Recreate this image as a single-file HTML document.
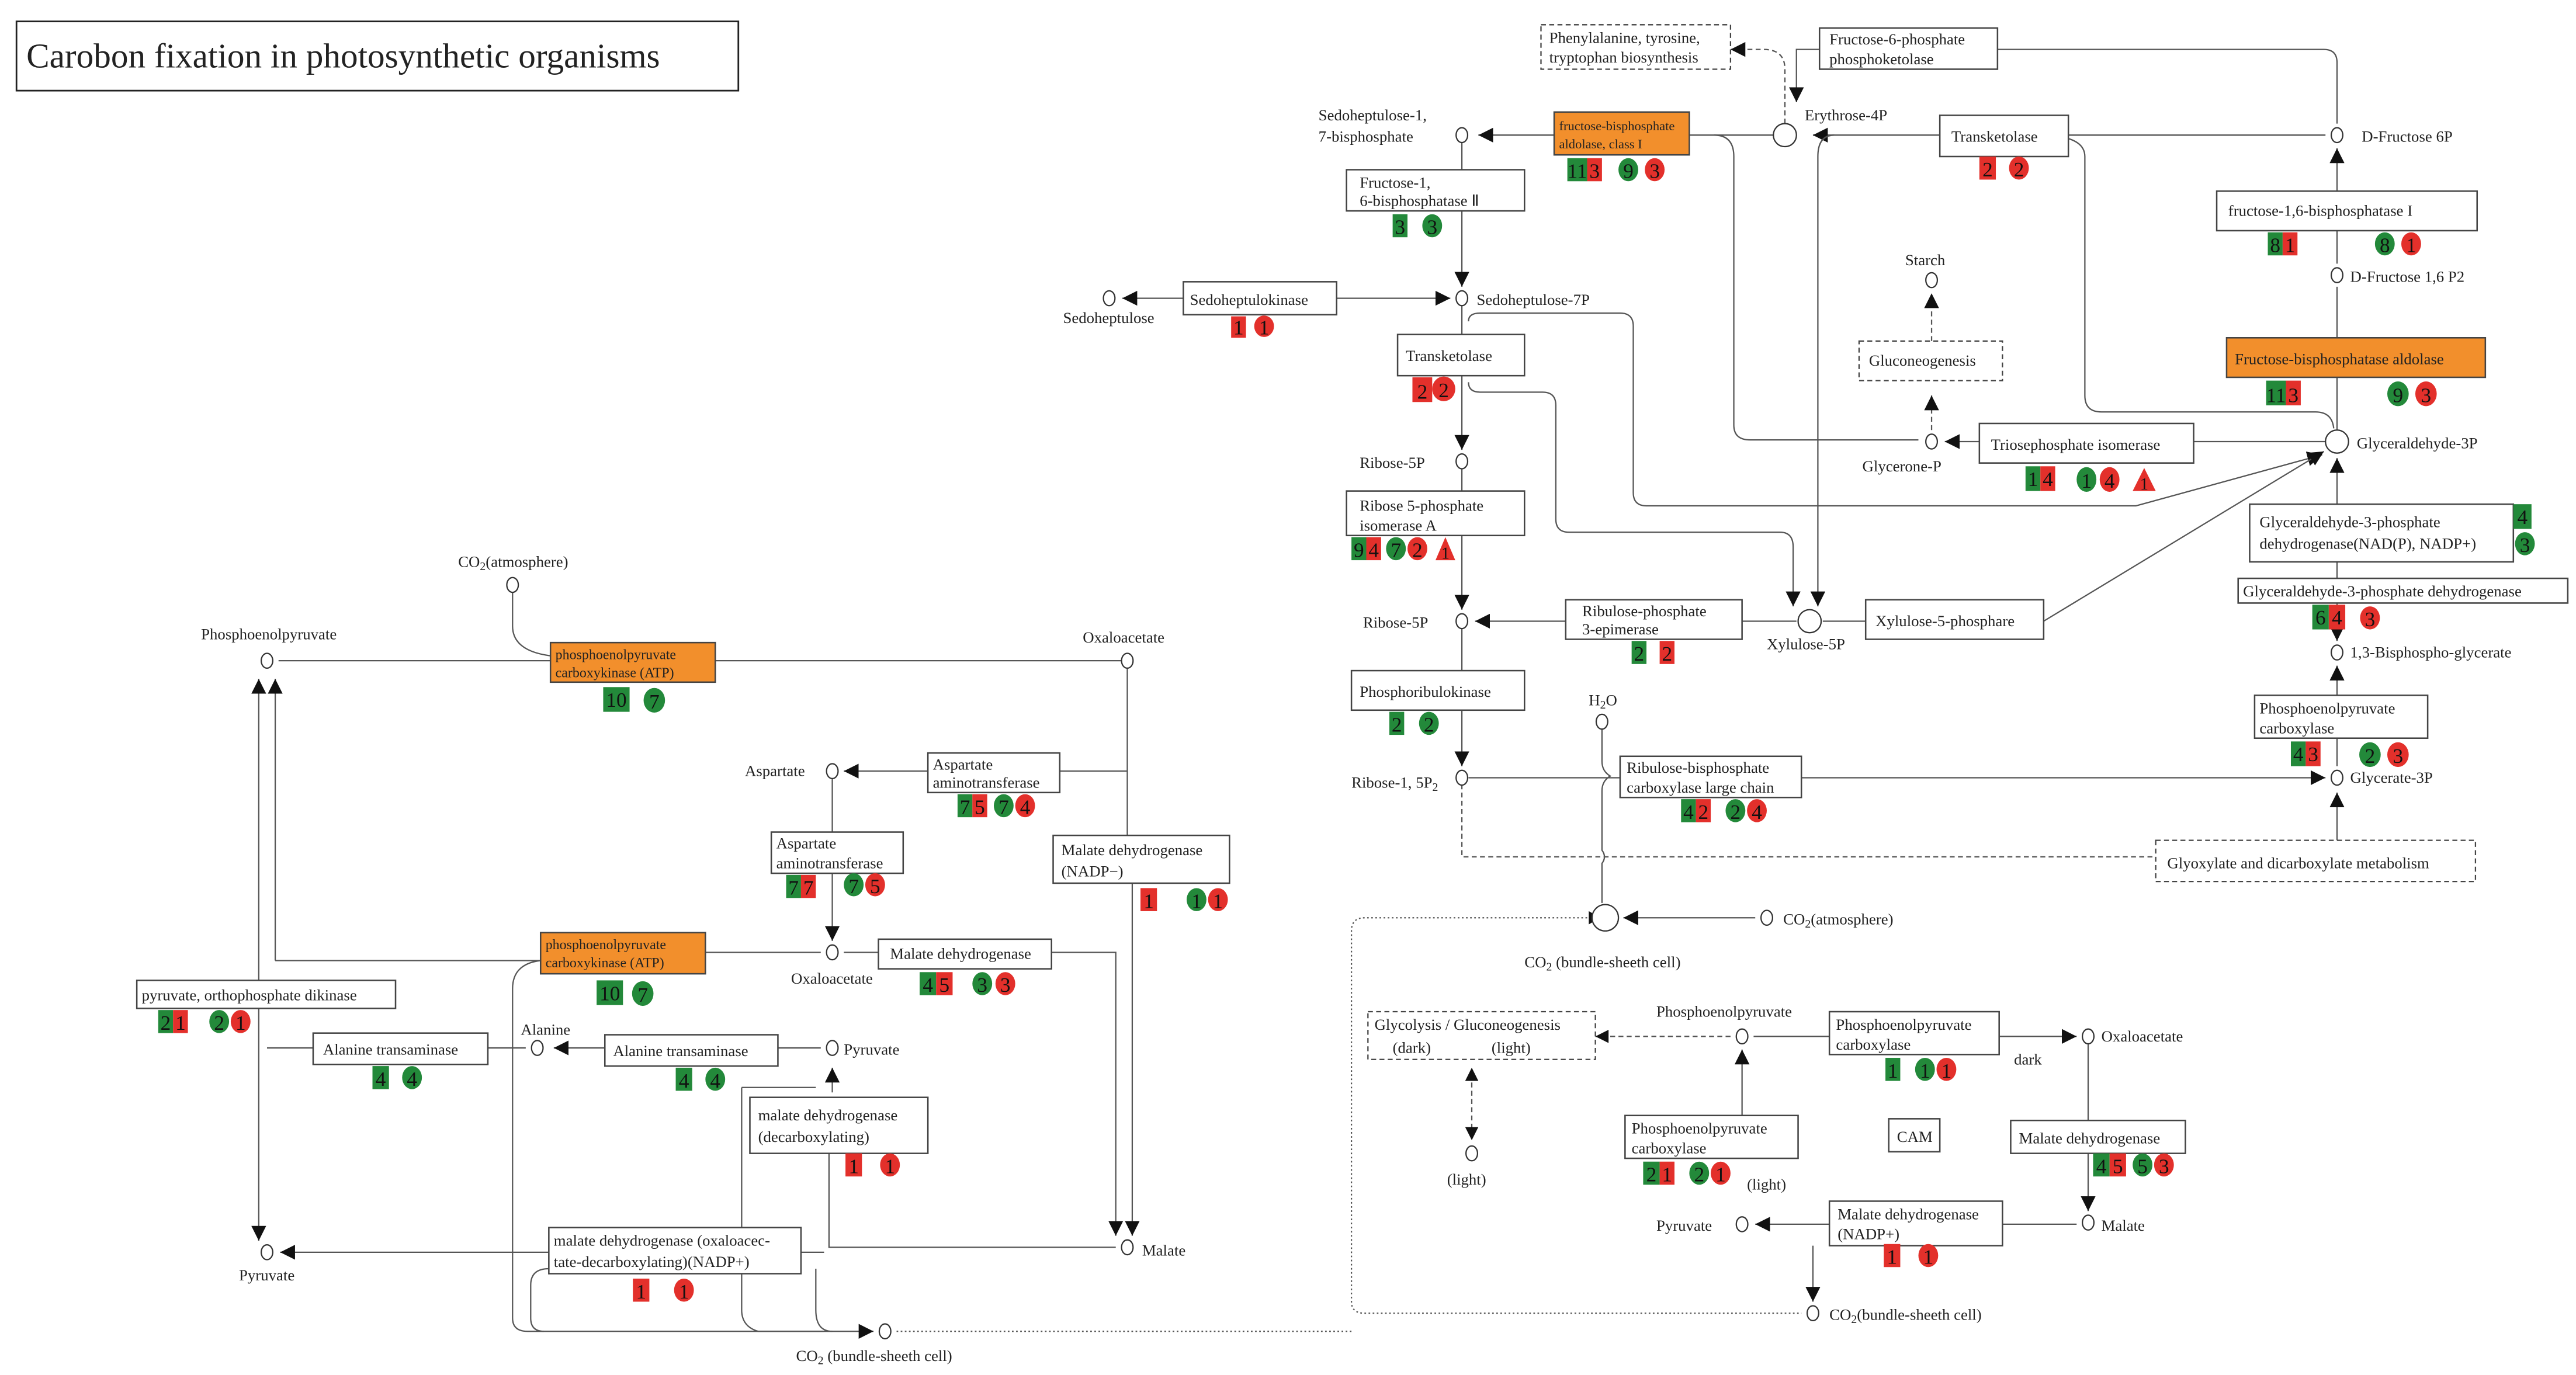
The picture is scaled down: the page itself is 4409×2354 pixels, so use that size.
<!DOCTYPE html>
<html><head><meta charset="utf-8"><style>
html,body{margin:0;padding:0;background:#fff}
svg{display:block}
text{font-family:"Liberation Serif",serif;font-size:9.5px;fill:#222}
.bx{fill:#fff;stroke:#444;stroke-width:0.9}
.or{fill:#f28f2c;stroke:#444;stroke-width:0.9}
.ds{fill:#fff;stroke:#444;stroke-width:0.8;stroke-dasharray:3 2}
.ln{fill:none;stroke:#555;stroke-width:0.8}
.dl{fill:none;stroke:#555;stroke-width:0.8;stroke-dasharray:3 2}
.dt{fill:none;stroke:#555;stroke-width:0.8;stroke-dasharray:1 1.5}
.c{fill:#fff;stroke:#333;stroke-width:0.8}
.g{fill:#23893a}.r{fill:#e3302b}
.b{font-size:12.5px;text-anchor:middle;fill:#111}
</style></head><body>
<svg width="4409" height="2354" viewBox="0 0 1563 834.5" xmlns="http://www.w3.org/2000/svg">
<defs>
<marker id="a" viewBox="0 0 10 10" refX="10" refY="5" markerWidth="9" markerHeight="9" markerUnits="userSpaceOnUse" orient="auto"><path d="M0,0L10,5L0,10z" fill="#111"/></marker>
</defs>

<rect x="10" y="13" width="438" height="42" fill="#fff" stroke="#222" stroke-width="1"/>
<text x="16" y="41" style="font-size:21px">Carobon fixation in photosynthetic organisms</text>

<path class="ln" d="M1418,75 V38 Q1418,30 1410,30 H1212"/>
<path class="ln" d="M1104,30 H1090 V62" marker-end="url(#a)"/>
<path class="dl" d="M1083,75 V42 Q1083,30 1070,30 H1050" marker-end="url(#a)"/>
<path class="ln" d="M943,82 H897" marker-end="url(#a)"/>
<path class="ln" d="M1025,82 H1076"/>
<path class="ln" d="M1177,82 H1100" marker-end="url(#a)"/>
<path class="ln" d="M1255,82 H1411"/>
<path class="ln" d="M887,86 V103"/>
<path class="ln" d="M887,128 V174" marker-end="url(#a)"/>
<path class="ln" d="M718,181 H681" marker-end="url(#a)"/>
<path class="ln" d="M811,181 H880" marker-end="url(#a)"/>
<path class="ln" d="M887,185 V203"/>
<path class="ln" d="M891,195 Q891,190 898,190 H983 Q991,190 991,198 V299 Q991,307 999,307 H1296 L1409,276" marker-end="url(#a)"/>
<path class="ln" d="M887,228 V273" marker-end="url(#a)"/>
<path class="ln" d="M891,232 Q891,238 898,238 H936 Q944,238 944,246 V315 Q944,323 952,323 H1080 Q1088,323 1088,332 V368" marker-end="url(#a)"/>
<path class="ln" d="M887,284 V298"/>
<path class="ln" d="M887,325 V370" marker-end="url(#a)"/>
<path class="ln" d="M950,377 H895" marker-end="url(#a)"/>
<path class="ln" d="M1057,377 H1090"/>
<path class="ln" d="M1106,377 H1132"/>
<path class="ln" d="M1240,377 L1410,274" marker-end="url(#a)"/>
<path class="ln" d="M1040,82 Q1052,82 1052,95 V258 Q1052,267 1062,267 H1164"/>
<path class="ln" d="M1113,82 Q1103,82 1103,95 V368" marker-end="url(#a)"/>
<path class="ln" d="M1237,82 Q1265,82 1265,95 V240 Q1265,250 1275,250 H1405 Q1415,250 1416,260"/>
<path class="ln" d="M887,381 V407"/>
<path class="ln" d="M887,431 V465" marker-end="url(#a)"/>
<path class="ln" d="M891,472 H1411" marker-end="url(#a)"/>
<path class="dl" d="M887,476 V520 H1308"/>
<path class="ln" d="M1418,510 V481" marker-end="url(#a)"/>
<path class="ln" d="M972,442 V462 Q972,468 977,471 Q972,474 972,480 V516 Q975,520 972,524 V548"/>
<path class="ln" d="M1065,557 H985" marker-end="url(#a)"/>
<path class="dt" d="M963,557 H828 Q820,557 820,565 V790 Q820,797 828,797 H1093" />
<path d="M964,553 l7,4 l-7,4z" fill="#111"/>
<path class="dt" d="M544,808 H820"/>
<path class="ln" d="M1418,160 V90" marker-end="url(#a)"/>
<path class="ln" d="M1418,174 V205"/>
<path class="ln" d="M1418,229 V261"/>
<path class="ln" d="M1331,268 H1411"/>
<path class="ln" d="M1201,268 H1180" marker-end="url(#a)"/>
<path class="dl" d="M1172,261 V240" marker-end="url(#a)"/>
<path class="dl" d="M1172,207 V178" marker-end="url(#a)"/>
<path class="ln" d="M1418,306 V278" marker-end="url(#a)"/>
<path class="ln" d="M1418,341 V351"/>
<path class="ln" d="M1418,366 V389" marker-end="url(#a)"/>
<path class="ln" d="M1418,422 V404" marker-end="url(#a)"/>
<path class="ln" d="M1418,448 V465"/>

<path class="ln" d="M169,401 H684"/>
<path class="ln" d="M311,359 V380 Q311,395 334,398"/>
<path class="ln" d="M157,595 V412" marker-end="url(#a)"/>
<path class="ln" d="M167,583 V412" marker-end="url(#a)"/>
<path class="ln" d="M167,583 H328"/>
<path class="ln" d="M428,578 H498"/>
<path class="ln" d="M328,583 Q311,585 311,600 V800 Q311,808 320,808 H530" marker-end="url(#a)"/>
<path class="ln" d="M684,405 V468 H643"/>
<path class="ln" d="M563,468 H512" marker-end="url(#a)"/>
<path class="ln" d="M505,472 V505"/>
<path class="ln" d="M505,530 V571" marker-end="url(#a)"/>
<path class="ln" d="M512,578 H533"/>
<path class="ln" d="M638,578 H677 V750" marker-end="url(#a)"/>
<path class="ln" d="M684,468 V507"/>
<path class="ln" d="M687,536 V750" marker-end="url(#a)"/>
<path class="ln" d="M157,612 V753" marker-end="url(#a)"/>
<path class="ln" d="M190,636 H162"/>
<path class="ln" d="M296,636 H319"/>
<path class="ln" d="M367,636 H336" marker-end="url(#a)"/>
<path class="ln" d="M472,636 H498"/>
<path class="ln" d="M505,663 V648" marker-end="url(#a)"/>
<path class="ln" d="M503,700 V757 H677"/>
<path class="ln" d="M450,660 H495 M450,660 V795 Q450,805 460,808 H500"/>
<path class="ln" d="M333,760 H170" marker-end="url(#a)"/>
<path class="ln" d="M486,760 H500"/>
<path class="ln" d="M333,770 Q322,770 322,780 V800 Q322,808 330,808"/>
<path class="ln" d="M495,770 V795 Q495,808 505,808"/>

<path class="dl" d="M1050,629 H968"/>
<path d="M968,629 l8,-4 v8z" fill="#111"/>
<path class="ln" d="M1064,629 H1110"/>
<path class="ln" d="M1213,629 H1260" marker-end="url(#a)"/>
<path class="dl" d="M893,652 V690"/>
<path d="M893,648 l-4,8 h8z M893,692 l-4,-8 h8z" fill="#111"/>
<path class="ln" d="M1057,677 V637" marker-end="url(#a)"/>
<path class="ln" d="M1267,633 V680"/>
<path class="ln" d="M1267,700 V735" marker-end="url(#a)"/>
<path class="ln" d="M1260,743 H1215"/>
<path class="ln" d="M1110,743 H1065" marker-end="url(#a)"/>
<path class="ln" d="M1100,756 V790" marker-end="url(#a)"/>

<rect class="ds" x="935" y="15" width="115" height="27"/>
<text x="940" y="26">Phenylalanine, tyrosine,</text><text x="940" y="38">tryptophan biosynthesis</text>
<rect class="bx" x="1104" y="17" width="108" height="25"/>
<text x="1110" y="27">Fructose-6-phosphate</text><text x="1110" y="39">phosphoketolase</text>
<rect class="or" x="943" y="68" width="82" height="26"/>
<text x="946" y="79" style="font-size:8px">fructose-bisphosphate</text><text x="946" y="90" style="font-size:8px">aldolase, class I</text>
<text x="800" y="73">Sedoheptulose-1,</text><text x="800" y="86">7-bisphosphate</text>
<text x="1095" y="73">Erythrose-4P</text>
<rect class="bx" x="817" y="103" width="108" height="25"/>
<text x="825" y="114">Fructose-1,</text><text x="825" y="125">6-bisphosphatase Ⅱ</text>
<rect class="bx" x="718" y="171" width="93" height="20"/>
<text x="722" y="185">Sedoheptulokinase</text>
<text x="645" y="196">Sedoheptulose</text>
<text x="896" y="185">Sedoheptulose-7P</text>
<rect class="bx" x="848" y="203" width="77" height="25"/>
<text x="853" y="219">Transketolase</text>
<text x="825" y="284">Ribose-5P</text>
<rect class="bx" x="817" y="298" width="108" height="27"/>
<text x="825" y="310">Ribose 5-phosphate</text><text x="825" y="322">isomerase A</text>
<text x="827" y="381">Ribose-5P</text>
<rect class="bx" x="950" y="364" width="107" height="24"/>
<text x="960" y="374">Ribulose-phosphate</text><text x="960" y="385">3-epimerase</text>
<text x="1072" y="394">Xylulose-5P</text>
<rect class="bx" x="1132" y="364" width="108" height="24"/>
<text x="1138" y="380">Xylulose-5-phosphare</text>
<rect class="bx" x="820" y="407" width="105" height="24"/>
<text x="825" y="423">Phosphoribulokinase</text>
<text x="820" y="478">Ribose-1, 5P<tspan style="font-size:7px" dy="2">2</tspan></text>
<text x="964" y="428">H<tspan style="font-size:7px" dy="2">2</tspan><tspan dy="-2">O</tspan></text>
<rect class="bx" x="983" y="459" width="110" height="25"/>
<text x="987" y="469">Ribulose-bisphosphate</text><text x="987" y="481">carboxylase large chain</text>
<text x="925" y="587">CO<tspan style="font-size:7px" dy="2">2</tspan><tspan dy="-2"> (bundle-sheeth cell)</tspan></text>
<text x="1082" y="561">CO<tspan style="font-size:7px" dy="2">2</tspan><tspan dy="-2">(atmosphere)</tspan></text>
<rect class="ds" x="1308" y="510" width="194" height="25"/>
<text x="1315" y="527">Glyoxylate and dicarboxylate metabolism</text>
<text x="1433" y="86">D-Fructose 6P</text>
<rect class="bx" x="1177" y="70" width="78" height="25"/>
<text x="1184" y="86">Transketolase</text>
<rect class="bx" x="1345" y="116" width="158" height="24"/>
<text x="1352" y="131">fructose-1,6-bisphosphatase I</text>
<text x="1426" y="171">D-Fructose 1,6 P2</text>
<text x="1156" y="161">Starch</text>
<rect class="ds" x="1128" y="207" width="87" height="24"/>
<text x="1134" y="222">Gluconeogenesis</text>
<rect class="or" x="1351" y="205" width="157" height="24"/>
<text x="1356" y="221">Fructose-bisphosphatase aldolase</text>
<text x="1430" y="272">Glyceraldehyde-3P</text>
<rect class="bx" x="1201" y="257" width="130" height="24"/>
<text x="1208" y="273">Triosephosphate isomerase</text>
<text x="1130" y="286">Glycerone-P</text>
<rect class="bx" x="1365" y="306" width="160" height="35"/>
<text x="1371" y="320">Glyceraldehyde-3-phosphate</text><text x="1371" y="333">dehydrogenase(NAD(P), NADP+)</text>
<rect class="bx" x="1358" y="351" width="200" height="15"/>
<text x="1361" y="362">Glyceraldehyde-3-phosphate dehydrogenase</text>
<text x="1426" y="399">1,3-Bisphospho-glycerate</text>
<rect class="bx" x="1368" y="422" width="105" height="26"/>
<text x="1371" y="433">Phosphoenolpyruvate</text><text x="1371" y="445">carboxylase</text>
<text x="1426" y="475">Glycerate-3P</text>

<text x="278" y="344">CO<tspan style="font-size:7px" dy="2">2</tspan><tspan dy="-2">(atmosphere)</tspan></text>
<text x="122" y="388">Phosphoenolpyruvate</text>
<rect class="or" x="334" y="390" width="100" height="24"/>
<text x="337" y="400" style="font-size:8.5px">phosphoenolpyruvate</text><text x="337" y="411" style="font-size:8.5px">carboxykinase (ATP)</text>
<text x="657" y="390">Oxaloacetate</text>
<text x="452" y="471">Aspartate</text>
<rect class="bx" x="563" y="457" width="80" height="24"/>
<text x="566" y="467">Aspartate</text><text x="566" y="478">aminotransferase</text>
<rect class="bx" x="468" y="505" width="80" height="25"/>
<text x="471" y="515">Aspartate</text><text x="471" y="527">aminotransferase</text>
<rect class="bx" x="639" y="507" width="107" height="29"/>
<text x="644" y="519">Malate dehydrogenase</text><text x="644" y="532">(NADP−)</text>
<rect class="or" x="328" y="566" width="100" height="25"/>
<text x="331" y="576" style="font-size:8.5px">phosphoenolpyruvate</text><text x="331" y="587" style="font-size:8.5px">carboxykinase (ATP)</text>
<text x="480" y="597">Oxaloacetate</text>
<rect class="bx" x="533" y="570" width="105" height="18"/>
<text x="540" y="582">Malate dehydrogenase</text>
<rect class="bx" x="83" y="595" width="157" height="17"/>
<text x="86" y="607">pyruvate, orthophosphate dikinase</text>
<text x="316" y="628">Alanine</text>
<rect class="bx" x="190" y="627" width="106" height="19"/>
<text x="196" y="640">Alanine transaminase</text>
<rect class="bx" x="367" y="628" width="105" height="19"/>
<text x="372" y="641">Alanine transaminase</text>
<text x="512" y="640">Pyruvate</text>
<rect class="bx" x="455" y="666" width="108" height="34"/>
<text x="460" y="680">malate dehydrogenase</text><text x="460" y="693">(decarboxylating)</text>
<text x="693" y="762">Malate</text>
<rect class="bx" x="333" y="745" width="153" height="28"/>
<text x="336" y="756">malate dehydrogenase (oxaloacec-</text><text x="336" y="769">tate-decarboxylating)(NADP+)</text>
<text x="145" y="777">Pyruvate</text>
<text x="483" y="826">CO<tspan style="font-size:7px" dy="2">2</tspan><tspan dy="-2"> (bundle-sheeth cell)</tspan></text>

<rect class="ds" x="830" y="614" width="138" height="29"/>
<text x="834" y="625">Glycolysis / Gluconeogenesis</text><text x="845" y="639">(dark)</text><text x="905" y="639">(light)</text>
<text x="878" y="719">(light)</text>
<text x="1005" y="617">Phosphoenolpyruvate</text>
<rect class="bx" x="1110" y="614" width="103" height="26"/>
<text x="1114" y="625">Phosphoenolpyruvate</text><text x="1114" y="637">carboxylase</text>
<text x="1275" y="632">Oxaloacetate</text>
<text x="1222" y="646">dark</text>
<rect class="bx" x="986" y="677" width="105" height="26"/>
<text x="990" y="688">Phosphoenolpyruvate</text><text x="990" y="700">carboxylase</text>
<text x="1060" y="722">(light)</text>
<rect class="bx" x="1146" y="679" width="31" height="20"/>
<text x="1151" y="693">CAM</text>
<rect class="bx" x="1220" y="680" width="106" height="20"/>
<text x="1225" y="694">Malate dehydrogenase</text>
<text x="1275" y="747">Malate</text>
<text x="1005" y="747">Pyruvate</text>
<rect class="bx" x="1110" y="729" width="105" height="27"/>
<text x="1115" y="740">Malate dehydrogenase</text><text x="1115" y="752">(NADP+)</text>
<text x="1110" y="801">CO<tspan style="font-size:7px" dy="2">2</tspan><tspan dy="-2">(bundle-sheeth cell)</tspan></text>

<g class="c">
<ellipse cx="1083" cy="82" rx="7" ry="7"/>
<ellipse cx="887" cy="82" rx="3.5" ry="4.5"/>
<ellipse cx="887" cy="181" rx="3.5" ry="4.5"/>
<ellipse cx="673" cy="181" rx="3.5" ry="4.5"/>
<ellipse cx="887" cy="280" rx="3.5" ry="4.5"/>
<ellipse cx="887" cy="377" rx="3.5" ry="4.5"/>
<ellipse cx="1098" cy="377" rx="7" ry="7"/>
<ellipse cx="887" cy="472" rx="3.5" ry="4.5"/>
<ellipse cx="972" cy="438" rx="3.5" ry="4.5"/>
<ellipse cx="974" cy="557" rx="8" ry="8"/>
<ellipse cx="1072" cy="557" rx="3.5" ry="4.5"/>
<ellipse cx="1418" cy="82" rx="3.5" ry="4.5"/>
<ellipse cx="1418" cy="167" rx="3.5" ry="4.5"/>
<ellipse cx="1172" cy="170" rx="3.5" ry="4.5"/>
<ellipse cx="1418" cy="268" rx="7" ry="7"/>
<ellipse cx="1172" cy="268" rx="3.5" ry="4.5"/>
<ellipse cx="1418" cy="396" rx="3.5" ry="4.5"/>
<ellipse cx="1418" cy="472" rx="3.5" ry="4.5"/>
<ellipse cx="311" cy="355" rx="3.5" ry="4.5"/>
<ellipse cx="162" cy="401" rx="3.5" ry="4.5"/>
<ellipse cx="684" cy="401" rx="3.5" ry="4.5"/>
<ellipse cx="505" cy="468" rx="3.5" ry="4.5"/>
<ellipse cx="505" cy="578" rx="3.5" ry="4.5"/>
<ellipse cx="326" cy="636" rx="3.5" ry="4.5"/>
<ellipse cx="505" cy="636" rx="3.5" ry="4.5"/>
<ellipse cx="684" cy="757" rx="3.5" ry="4.5"/>
<ellipse cx="162" cy="760" rx="3.5" ry="4.5"/>
<ellipse cx="537" cy="808" rx="3.5" ry="4.5"/>
<ellipse cx="1057" cy="629" rx="3.5" ry="4.5"/>
<ellipse cx="1267" cy="629" rx="3.5" ry="4.5"/>
<ellipse cx="893" cy="700" rx="3.5" ry="4.5"/>
<ellipse cx="1267" cy="742" rx="3.5" ry="4.5"/>
<ellipse cx="1057" cy="743" rx="3.5" ry="4.5"/>
<ellipse cx="1100" cy="797" rx="3.5" ry="4.5"/>
</g>

<g>
<rect class="g" x="951" y="96" width="12" height="14"/><text class="b" x="957" y="108">11</text>
<rect class="r" x="963" y="96" width="9" height="14"/><text class="b" x="967.5" y="108">3</text>
<ellipse class="g" cx="988" cy="103" rx="6" ry="7"/><text class="b" x="988" y="108">9</text>
<ellipse class="r" cx="1004" cy="103" rx="6" ry="7"/><text class="b" x="1004" y="108">3</text>
<rect class="g" x="845" y="130" width="9" height="14"/><text class="b" x="849.5" y="142">3</text>
<ellipse class="g" cx="869" cy="137" rx="6" ry="7"/><text class="b" x="869" y="142">3</text>
<rect class="r" x="747" y="192" width="9" height="13"/><text class="b" x="751.5" y="203">1</text>
<ellipse class="r" cx="767" cy="198" rx="6" ry="6.5"/><text class="b" x="767" y="203">1</text>
<rect class="r" x="857" y="229" width="12" height="15"/><text class="b" x="863" y="242">2</text>
<ellipse class="r" cx="876" cy="236" rx="7" ry="7.5"/><text class="b" x="876" y="241">2</text>
<rect class="g" x="820" y="326" width="9" height="14"/><text class="b" x="824.5" y="338">9</text>
<rect class="r" x="829" y="326" width="9" height="14"/><text class="b" x="833.5" y="338">4</text>
<ellipse class="g" cx="847" cy="333" rx="6" ry="7"/><text class="b" x="847" y="338">7</text>
<ellipse class="r" cx="860" cy="333" rx="6" ry="7"/><text class="b" x="860" y="338">2</text>
<path class="r" d="M877,326 L883,340 H871z"/><text class="b" x="877" y="339" style="font-size:10px">1</text>
<rect class="g" x="990" y="389" width="9" height="14"/><text class="b" x="994.5" y="401">2</text>
<rect class="r" x="1007" y="389" width="9" height="14"/><text class="b" x="1011.5" y="401">2</text>
<rect class="g" x="843" y="432" width="9" height="14"/><text class="b" x="847.5" y="444">2</text>
<ellipse class="g" cx="867" cy="439" rx="6" ry="7"/><text class="b" x="867" y="444">2</text>
<rect class="g" x="1020" y="485" width="9" height="14"/><text class="b" x="1024.5" y="497">4</text>
<rect class="r" x="1029" y="485" width="9" height="14"/><text class="b" x="1033.5" y="497">2</text>
<ellipse class="g" cx="1053" cy="492" rx="6" ry="7"/><text class="b" x="1053" y="497">2</text>
<ellipse class="r" cx="1066" cy="492" rx="6" ry="7"/><text class="b" x="1066" y="497">4</text>
<rect class="r" x="1201" y="95" width="10" height="14"/><text class="b" x="1206" y="107">2</text>
<ellipse class="r" cx="1225" cy="102" rx="6" ry="7"/><text class="b" x="1225" y="107">2</text>
<rect class="g" x="1376" y="141" width="9" height="14"/><text class="b" x="1380.5" y="153">8</text>
<rect class="r" x="1385" y="141" width="9" height="14"/><text class="b" x="1389.5" y="153">1</text>
<ellipse class="g" cx="1447" cy="148" rx="6" ry="7"/><text class="b" x="1447" y="153">8</text>
<ellipse class="r" cx="1463" cy="148" rx="6" ry="7"/><text class="b" x="1463" y="153">1</text>
<rect class="g" x="1375" y="231" width="12" height="15"/><text class="b" x="1381" y="244">11</text>
<rect class="r" x="1387" y="231" width="9" height="15"/><text class="b" x="1391.5" y="244">3</text>
<ellipse class="g" cx="1455" cy="239" rx="6.5" ry="7.5"/><text class="b" x="1455" y="244">9</text>
<ellipse class="r" cx="1472" cy="239" rx="6.5" ry="7.5"/><text class="b" x="1472" y="244">3</text>
<rect class="g" x="1229" y="283" width="9" height="15"/><text class="b" x="1233.5" y="295">1</text>
<rect class="r" x="1238" y="283" width="9" height="15"/><text class="b" x="1242.5" y="295">4</text>
<ellipse class="g" cx="1266" cy="291" rx="6" ry="7.5"/><text class="b" x="1266" y="296">1</text>
<ellipse class="r" cx="1280" cy="291" rx="6" ry="7.5"/><text class="b" x="1280" y="296">4</text>
<path class="r" d="M1301,284 L1308,298 H1294z"/><text class="b" x="1301" y="297" style="font-size:10px">1</text>
<rect class="g" x="1525" y="306" width="11" height="15"/><text class="b" x="1530.5" y="318">4</text>
<ellipse class="g" cx="1532" cy="330" rx="6" ry="7"/><text class="b" x="1532" y="335">3</text>
<rect class="g" x="1403" y="367" width="10" height="15"/><text class="b" x="1408" y="379">6</text>
<rect class="r" x="1413" y="367" width="10" height="15"/><text class="b" x="1418" y="379">4</text>
<ellipse class="r" cx="1438" cy="375" rx="6" ry="7"/><text class="b" x="1438" y="380">3</text>
<rect class="g" x="1390" y="450" width="9" height="15"/><text class="b" x="1394.5" y="462">4</text>
<rect class="r" x="1399" y="450" width="9" height="15"/><text class="b" x="1403.5" y="462">3</text>
<ellipse class="g" cx="1438" cy="458" rx="6.5" ry="7.5"/><text class="b" x="1438" y="463">2</text>
<ellipse class="r" cx="1455" cy="458" rx="6.5" ry="7.5"/><text class="b" x="1455" y="463">3</text>
<rect class="g" x="366" y="417" width="16" height="15"/><text class="b" x="374" y="429">10</text>
<ellipse class="g" cx="397" cy="425" rx="6.5" ry="7.5"/><text class="b" x="397" y="430">7</text>
<rect class="g" x="581" y="482" width="9" height="14"/><text class="b" x="585.5" y="494">7</text>
<rect class="r" x="590" y="482" width="9" height="14"/><text class="b" x="594.5" y="494">5</text>
<ellipse class="g" cx="609" cy="489" rx="6" ry="7"/><text class="b" x="609" y="494">7</text>
<ellipse class="r" cx="622" cy="489" rx="6" ry="7"/><text class="b" x="622" y="494">4</text>
<rect class="g" x="477" y="531" width="9" height="14"/><text class="b" x="481.5" y="543">7</text>
<rect class="r" x="486" y="531" width="9" height="14"/><text class="b" x="490.5" y="543">7</text>
<ellipse class="g" cx="518" cy="537" rx="6" ry="7"/><text class="b" x="518" y="542">7</text>
<ellipse class="r" cx="531" cy="537" rx="6" ry="7"/><text class="b" x="531" y="542">5</text>
<rect class="r" x="692" y="539" width="10" height="14"/><text class="b" x="697" y="551">1</text>
<ellipse class="g" cx="726" cy="546" rx="6" ry="7"/><text class="b" x="726" y="551">1</text>
<ellipse class="r" cx="739" cy="546" rx="6" ry="7"/><text class="b" x="739" y="551">1</text>
<rect class="g" x="362" y="595" width="16" height="15"/><text class="b" x="370" y="607">10</text>
<ellipse class="g" cx="390" cy="603" rx="6.5" ry="7.5"/><text class="b" x="390" y="608">7</text>
<rect class="g" x="558" y="590" width="10" height="14"/><text class="b" x="563" y="602">4</text>
<rect class="r" x="568" y="590" width="10" height="14"/><text class="b" x="573" y="602">5</text>
<ellipse class="g" cx="596" cy="597" rx="6" ry="7"/><text class="b" x="596" y="602">3</text>
<ellipse class="r" cx="610" cy="597" rx="6" ry="7"/><text class="b" x="610" y="602">3</text>
<rect class="g" x="96" y="613" width="9" height="14"/><text class="b" x="100.5" y="625">2</text>
<rect class="r" x="105" y="613" width="9" height="14"/><text class="b" x="109.5" y="625">1</text>
<ellipse class="g" cx="133" cy="620" rx="6" ry="7"/><text class="b" x="133" y="625">2</text>
<ellipse class="r" cx="146" cy="620" rx="6" ry="7"/><text class="b" x="146" y="625">1</text>
<rect class="g" x="226" y="647" width="10" height="14"/><text class="b" x="231" y="659">4</text>
<ellipse class="g" cx="250" cy="654" rx="6" ry="7"/><text class="b" x="250" y="659">4</text>
<rect class="g" x="410" y="648" width="10" height="14"/><text class="b" x="415" y="660">4</text>
<ellipse class="g" cx="434" cy="655" rx="6" ry="7"/><text class="b" x="434" y="660">4</text>
<rect class="r" x="513" y="700" width="10" height="14"/><text class="b" x="518" y="712">1</text>
<ellipse class="r" cx="540" cy="707" rx="6" ry="7"/><text class="b" x="540" y="712">1</text>
<rect class="r" x="384" y="776" width="10" height="14"/><text class="b" x="389" y="788">1</text>
<ellipse class="r" cx="415" cy="783" rx="6" ry="7"/><text class="b" x="415" y="788">1</text>
<rect class="g" x="1144" y="642" width="9" height="14"/><text class="b" x="1148.5" y="654">1</text>
<ellipse class="g" cx="1168" cy="649" rx="6" ry="7"/><text class="b" x="1168" y="654">1</text>
<ellipse class="r" cx="1181" cy="649" rx="6" ry="7"/><text class="b" x="1181" y="654">1</text>
<rect class="g" x="997" y="705" width="10" height="14"/><text class="b" x="1002" y="717">2</text>
<rect class="r" x="1007" y="705" width="9" height="14"/><text class="b" x="1011.5" y="717">1</text>
<ellipse class="g" cx="1031" cy="712" rx="6" ry="7"/><text class="b" x="1031" y="717">2</text>
<ellipse class="r" cx="1044" cy="712" rx="6" ry="7"/><text class="b" x="1044" y="717">1</text>
<rect class="g" x="1270" y="700" width="10" height="14"/><text class="b" x="1275" y="712">4</text>
<rect class="r" x="1280" y="700" width="10" height="14"/><text class="b" x="1285" y="712">5</text>
<ellipse class="g" cx="1300" cy="707" rx="6" ry="7"/><text class="b" x="1300" y="712">5</text>
<ellipse class="r" cx="1313" cy="707" rx="6" ry="7"/><text class="b" x="1313" y="712">3</text>
<rect class="r" x="1143" y="755" width="10" height="14"/><text class="b" x="1148" y="767">1</text>
<ellipse class="r" cx="1170" cy="762" rx="6" ry="7"/><text class="b" x="1170" y="767">1</text>
</g>
</svg>
</body></html>
